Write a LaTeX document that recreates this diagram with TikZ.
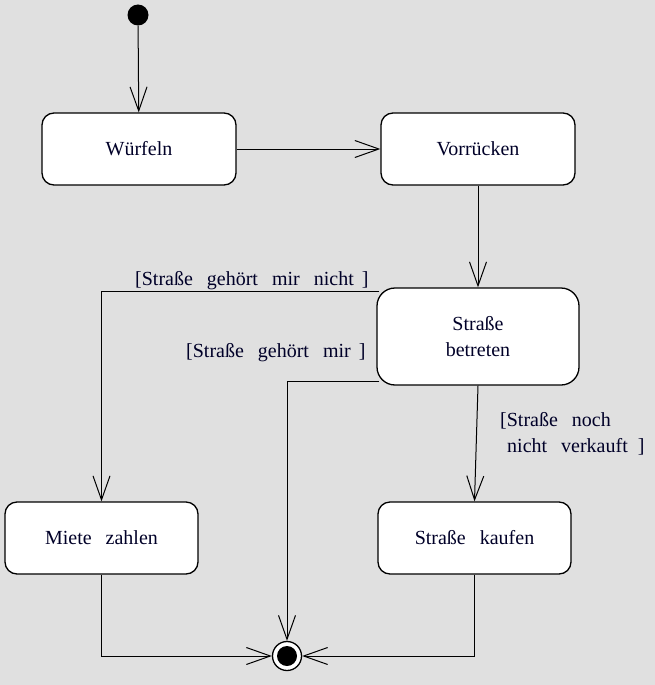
\documentclass[tikz,border=0pt]{standalone}
\usepackage{fontspec}
\setmainfont{Liberation Serif}
\usetikzlibrary{arrows.meta}
\usetikzlibrary{positioning}
\definecolor{bggray}{RGB}{224,224,224}
\definecolor{inkblue}{RGB}{0,0,40}
\newcommand{\widesp}{\spaceskip=0.7em\relax}

\begin{document}
\begin{tikzpicture}[x=1pt,y=-1pt,
  every node/.style={font=\fontsize{20}{26}\selectfont,text=inkblue,execute at begin node=\widesp},
  state/.style={draw=black,fill=white,line width=1.3pt,rounded corners=12pt,minimum width=194pt,minimum height=72pt,align=center},
  flow/.style={line width=1pt,-{Straight Barb[length=24pt,width=17pt,line width=1pt]}},
  guard/.style={inner sep=0pt}]
\fill[bggray] (0,0) rectangle (655,685);
\useasboundingbox (0,0) rectangle (655,685);
\node[circle,fill=black,minimum size=21pt,inner sep=0pt] (start) at (138,15) {};
\node[state] (wuerfeln) at (139,149) {Würfeln};
\node[state] (vorruecken) at (478,149) {Vorrücken};
\node[state,minimum width=202pt,minimum height=97pt,rounded corners=18pt] (betreten) at (478,336.5) {Straße\\betreten};
\node[state,minimum width=193pt] (miete) at (101.5,538) {Miete zahlen};
\node[state,minimum width=193pt] (kaufen) at (474.5,538) {Straße kaufen};
\node[circle,draw=black,fill=white,line width=1.3pt,minimum size=29pt,inner sep=0pt] (final) at (287,656) {};
\fill[black] (final) circle (10);

\coordinate (b1) at ([shift={(3,4)}]betreten.north west);
\coordinate (b2) at ([shift={(3,-4)}]betreten.south west);

\draw[flow] (start) -- (wuerfeln);
\draw[flow] (wuerfeln) -- (vorruecken);
\draw[flow] (vorruecken) -- (betreten);
\draw[flow] (b1) -| (miete);
\draw[flow] (b2) -| (final);
\draw[flow] (betreten.south) -- (kaufen.north);
\draw[flow] (miete.south) |- (final);
\draw[flow] (kaufen.south) |- (final);

\node[guard,anchor=west] (g1) at (135,281) {[Straße gehört mir nicht\hspace{0.4em}]};
\node[guard,anchor=west] (g2) at (186,353) {[Straße gehört mir\hspace{0.4em}]};
\node[guard,anchor=west,align=left] (g3) at (500,434) {[Straße noch\\\hspace{0.35em}nicht verkauft\hspace{0.5em}]};
\end{tikzpicture}
\end{document}
